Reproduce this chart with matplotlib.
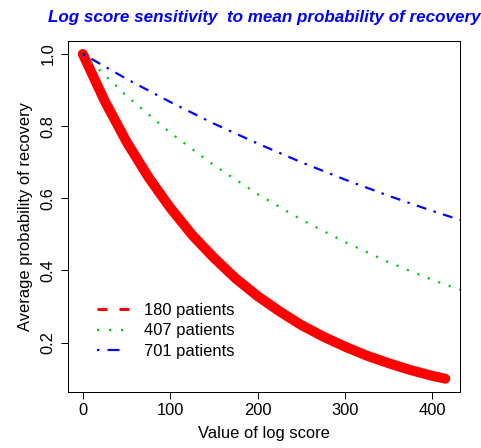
import matplotlib
matplotlib.use("Agg")
import matplotlib.pyplot as plt
from matplotlib.lines import Line2D

# log score values and the mean probability of recovery for each cohort size
score_red = [0, 25, 50, 75, 100, 125, 150, 175, 200, 225, 250, 275, 300, 325, 350, 375, 400, 415]
prob_180 = [1.000, 0.870, 0.757, 0.659, 0.574, 0.499, 0.435, 0.378, 0.329, 0.287,
            0.249, 0.217, 0.189, 0.164, 0.143, 0.124, 0.108, 0.100]

score_lines = [0, 50, 100, 150, 200, 250, 300, 350, 400, 450]
prob_407 = [1.000, 0.884, 0.782, 0.692, 0.612, 0.541, 0.479, 0.423, 0.374, 0.331]
prob_701 = [1.000, 0.931, 0.867, 0.807, 0.752, 0.700, 0.652, 0.607, 0.565, 0.526]

legend_labels = ["180 patients", "407 patients", "701 patients"]
x_ticks = [0, 100, 200, 300, 400]
y_ticks = [0.2, 0.4, 0.6, 0.8, 1.0]

FS = 16.5

plt.rcParams["font.family"] = ["Liberation Sans", "DejaVu Sans"]
plt.rcParams["lines.scale_dashes"] = False

fig = plt.figure(figsize=(481 / 72, 448 / 72), dpi=72)
ax = fig.add_axes([0.142, 0.1257, 0.814, 0.7828])

ax.plot(score_red, prob_180, color="red", lw=10, solid_capstyle="round",
        solid_joinstyle="round", zorder=2)
ax.plot(score_lines, prob_407, color="#00cc00", lw=2.2,
        dashes=(2.2, 9), dash_capstyle="butt", zorder=3)
ax.plot(score_lines, prob_701, color="blue", lw=2.2,
        dashes=(2.5, 7.5, 10, 7.5), dash_capstyle="butt", zorder=3)

ax.set_xlim(-16.6, 431.6)
ax.set_ylim(0.064, 1.036)
ax.set_xticks(x_ticks)
ax.set_xticklabels([str(v) for v in x_ticks], fontsize=FS)
ax.set_yticks(y_ticks)
ax.set_yticklabels([f"{v:.1f}" for v in y_ticks], fontsize=FS,
                   rotation=90, va="center")
ax.tick_params(direction="out", length=7, width=1)
ax.tick_params(axis="x", pad=4)
ax.tick_params(axis="y", pad=6)
for sp in ax.spines.values():
    sp.set_linewidth(1)

ax.set_xlabel("Value of log score", fontsize=FS, labelpad=8)
ax.set_ylabel("Average probability of recovery", fontsize=FS, labelpad=7)
ax.set_title("Log score sensitivity  to mean probability of recovery",
             fontsize=17, fontweight="bold", fontstyle="italic",
             color="blue", pad=19)

handles = [
    Line2D([], [], color="red", lw=3, dashes=(10, 12)),
    Line2D([], [], color="#00cc00", lw=2.2, dashes=(2.2, 9.8)),
    Line2D([], [], color="blue", lw=2.2, dashes=(2.5, 8, 12, 20)),
]
ax.legend(handles, legend_labels, loc="lower left", bbox_to_anchor=(0.073, 0.094),
          frameon=False, fontsize=FS, handlelength=2.0, handletextpad=0.85,
          labelspacing=0.33, borderaxespad=0, borderpad=0)

fig.savefig("out.png", dpi=72)
